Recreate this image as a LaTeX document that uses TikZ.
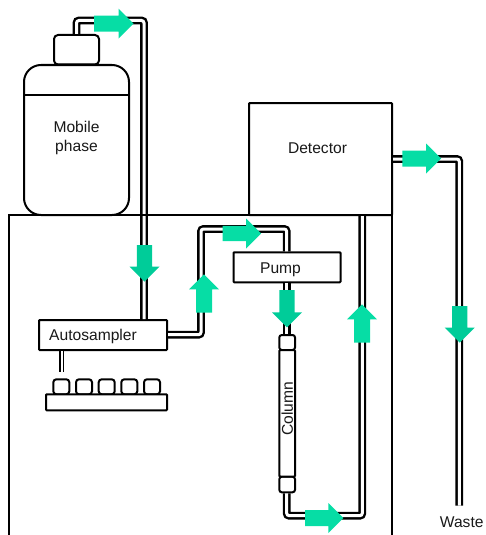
\documentclass[tikz,border=0pt]{standalone}
\usepackage{fontspec}
\setmainfont{Liberation Sans}
\definecolor{flowr}{HTML}{06DDA5}
\definecolor{flowd}{HTML}{00CC99}
\tikzset{
  x=1pt,y=-1pt,
  box/.style={draw=black,line width=2pt,fill=white,rounded corners=0.8pt,inner sep=0pt,outer sep=0pt,minimum width=#1,anchor=north west},
  lab/.style={font=\fontsize{15.6}{19}\selectfont,align=center,inner sep=0pt,text=black!90},
  tube/.style={draw=black,line width=2.4pt,double=white,double distance=3pt,rounded corners=2.5pt,shorten <=1pt,shorten >=1pt},
  needle/.style={draw=black,line width=1.3pt,double=white,double distance=2.4pt,shorten <=1pt},
  outline/.style={draw=black,line width=2pt},
  flowR/.style={fill=flowr,draw=none},
  flowD/.style={fill=flowd,draw=none},
}
\newcommand{\arrowshape}[6]{% style, tip x, tip y, rotation, body half, length
  \fill[#1,shift={(#2,#3)},rotate=#4] (0,0) -- (-15,15) -- (-15,#5) -- (-#6,#5) -- (-#6,-#5) -- (-15,-#5) -- (-15,-15) -- cycle;}
\begin{document}
\begin{tikzpicture}
\useasboundingbox (0,0) rectangle (485,535);
\node[box=128pt,minimum height=30pt] (auto) at (39,320) {};
\node[box=107pt,minimum height=30pt] (pump) at (233.5,252.3) {};
\node[box=143pt,minimum height=112pt] (det) at (249,103) {};
\node[box=45pt,minimum height=29.5pt,rounded corners=4pt] (cap) at (54,35) {};
\node[box=105pt,minimum height=150pt,rounded corners=17pt] (bottle) at (24,65) {};
\node[box=15.7pt,minimum height=15pt,rounded corners=2.5pt] (coltop) at (279.3,335) {};
\node[box=15.7pt,minimum height=15.6pt,rounded corners=2.5pt] (colbot) at (279.3,476.7) {};
\node[box=15.7pt,minimum height=126.7pt,rounded corners=1pt] (colbody) at (279.3,350) {};
\coordinate (c1) at (76.5,20.5);
\coordinate (c2) at (144,20.5);
\coordinate (c3) at (201,334.7);
\coordinate (c4) at (201,229);
\coordinate (c5) at (286.7,229);
\coordinate (c6) at (286.7,515.7);
\coordinate (c7) at (362.3,515.7);
\coordinate (c8) at (459.3,159);
\coordinate (wasteend) at (459.3,506.7);
% tubes
\draw[tube] (cap.north -| c1) -- (c1) -- (c2) -- (auto.north -| c2);
\draw[tube] (auto.east |- c3) -- (c3) -- (c4) -- (c5) -- (pump.north -| c5);
\draw[tube] (pump.south -| c5) -- (coltop.north -| c5);
\draw[tube] (colbot.south -| c6) -- (c6) -- (c7) -- (det.south -| c7);
\draw[tube] (det.east |- c8) -- (c8) -- (wasteend);
% instrument housing
\draw[outline] (9,535) -- (9,215) -- (392,215) -- (392,535);
% labels
\node[lab] (autolab) at (93,336.5) {Autosampler};
\node[lab] (pumplab) at (280.5,269.5) {Pump};
\node[lab] (detlab) at (317.5,148) {Detector};
\draw[line width=1.2pt] (bottle.west |- 0,95) -- (bottle.east |- 0,95);
\node[lab] (moblab) at (76.5,137.5) {Mobile\\phase};
\node[lab,rotate=90] (collab) at (287.3,409) {Column};
% sample tray
\node[box=16pt,minimum height=15pt,rounded corners=3pt] (v1) at (53.3,379.3) {};
\node[box=16pt,minimum height=15pt,rounded corners=3pt] (v2) at (76,379.3) {};
\node[box=16pt,minimum height=15pt,rounded corners=3pt] (v3) at (98.7,379.3) {};
\node[box=16pt,minimum height=15pt,rounded corners=3pt] (v4) at (121.3,379.3) {};
\node[box=16pt,minimum height=15pt,rounded corners=3pt] (v5) at (144,379.3) {};
\node[box=121pt,minimum height=16pt] (tray) at (46,394.3) {};
\coordinate (needleend) at (61.7,371.7);
\draw[needle] (auto.south -| needleend) -- (needleend);
\node[lab] (waste) at (461.7,522) {Waste};
% flow arrows
\arrowshape{flowR}{133.5}{23.7}{0}{8}{39.5}
\arrowshape{flowD}{144.5}{281.7}{-90}{7.6}{36.7}
\arrowshape{flowR}{204}{274.3}{90}{8}{38.4}
\arrowshape{flowR}{261}{233.5}{0}{7.7}{38.5}
\arrowshape{flowD}{287}{327.3}{-90}{7.6}{37.3}
\arrowshape{flowR}{343.3}{518}{0}{8}{38.3}
\arrowshape{flowR}{362}{304.3}{90}{8}{38.4}
\arrowshape{flowR}{441}{158.5}{0}{8}{38.7}
\arrowshape{flowD}{459.7}{342.7}{-90}{7.6}{36.7}
\end{tikzpicture}
\end{document}
